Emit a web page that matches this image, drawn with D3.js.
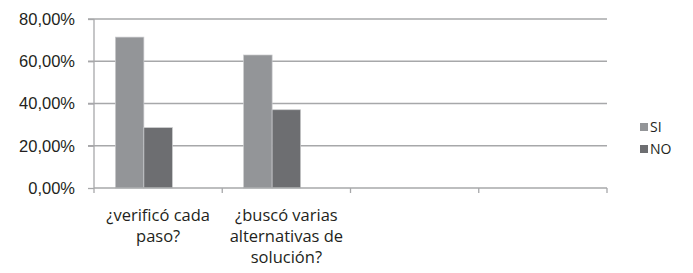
<!DOCTYPE html>
<html>
<head>
<meta charset="utf-8">
<script src="https://cdn.jsdelivr.net/npm/d3@7"></script>
<style>
  body { margin: 0; background: #fff; }
  svg { font-family: "Open Sans", "Liberation Sans", sans-serif; }
</style>
</head>
<body>
<svg id="chart" width="693" height="273"></svg>
<script>
// data
var categories = [["¿verificó cada", "paso?"], ["¿buscó varias", "alternativas de", "solución?"], [""], [""]];
var seriesNames = ["SI", "NO"];
var siValues = [0.7143, 0.6296, null, null];
var noValues = [0.2857, 0.3704, null, null];
var yTicks = [0, 0.2, 0.4, 0.6, 0.8];
var colors = ["#939598", "#6d6e71"];

var svg = d3.select("#chart");
var margin = {top: 19, left: 94, right: 86, bottom: 85};
var width = 693 - margin.left - margin.right;
var height = 273 - margin.top - margin.bottom;

var g = svg.append("g").attr("transform", "translate(" + [margin.left, margin.top] + ")");

var x = d3.scaleBand().domain(d3.range(categories.length)).range([0, width]);
// excel keeps a slot for an empty third series, so bars sit left of center
var xs = d3.scaleBand().domain([0, 1, 2]).range([0, x.bandwidth()]).paddingOuter(0.75);
var y = d3.scaleLinear().domain([0, 0.8]).range([height, 0]);

var fmt = function (d) { return (d * 100).toFixed(2).replace(".", ",") + "%"; };

// grid
g.append("g").selectAll("line").data(yTicks.slice(1)).enter().append("line")
  .attr("x1", -6).attr("x2", width)
  .attr("y1", function (d) { return y(d); }).attr("y2", function (d) { return y(d); })
  .attr("stroke", "#a7a8aa").attr("stroke-width", 1.3);

// y axis
var yAxis = g.append("g")
  .call(d3.axisLeft(y).tickValues(yTicks).tickFormat(fmt).tickSize(6).tickPadding(13));
yAxis.select(".domain").attr("stroke", "#a7a8aa").attr("stroke-width", 1.3).attr("d", "M0," + (height) + "V0");
yAxis.selectAll(".tick line").attr("stroke", "#a7a8aa").attr("stroke-width", 1.3);
yAxis.selectAll("text").attr("font-size", 16.5).attr("fill", "#231f20");

// bars
var rows = siValues.map(function (d, i) { return [d, noValues[i]]; });
var grp = g.selectAll(".cat").data(rows).enter().append("g")
  .attr("transform", function (d, i) { return "translate(" + x(i) + ",0)"; });
grp.selectAll("rect").data(function (d) { return d; }).enter()
  .filter(function (d) { return d != null; })
  .append("rect")
  .attr("x", function (d, j) { return xs(j); })
  .attr("width", xs.bandwidth())
  .attr("y", function (d) { return y(d); })
  .attr("height", function (d) { return height - y(d); })
  .attr("fill", function (d, j) { return colors[j]; })
  .attr("stroke", "#c9cacc").attr("stroke-width", 0.7);

// x axis
var xAxis = g.append("g").attr("transform", "translate(0," + height + ")");
xAxis.append("line").attr("x1", 0).attr("x2", width).attr("stroke", "#a7a8aa").attr("stroke-width", 1.3);
xAxis.selectAll(".xt").data(d3.range(categories.length + 1)).enter().append("line")
  .attr("x1", function (d) { return d * x.step(); }).attr("x2", function (d) { return d * x.step(); })
  .attr("y1", 0).attr("y2", 5)
  .attr("stroke", "#a7a8aa").attr("stroke-width", 1.3);
xAxis.selectAll(".xl").data(categories).enter().append("text")
  .attr("text-anchor", "middle")
  .attr("font-size", 16.5).attr("fill", "#231f20")
  .attr("transform", function (d, i) { return "translate(" + (x(i) + x.bandwidth() / 2) + ",0)"; })
  .selectAll("tspan").data(function (d) { return d; }).enter().append("tspan")
  .attr("x", 0).attr("y", function (d, k) { return 33 + k * 21; })
  .text(function (d) { return d; });

// legend
var leg = svg.append("g").attr("transform", "translate(640,123)");
var li = leg.selectAll("g").data(seriesNames).enter().append("g")
  .attr("transform", function (d, i) { return "translate(0," + i * 22 + ")"; });
li.append("rect").attr("width", 8).attr("height", 8).attr("fill", function (d, i) { return colors[i]; });
li.append("text").attr("x", 10).attr("y", 8.5).attr("font-size", 14).attr("fill", "#231f20").text(function (d) { return d; });
</script>
</body>
</html>
